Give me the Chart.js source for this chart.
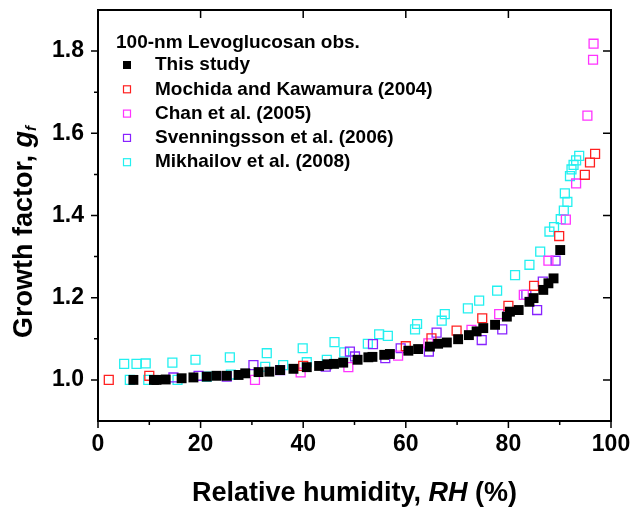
<!DOCTYPE html>
<html>
<head>
<meta charset="utf-8">
<script src="https://cdn.jsdelivr.net/npm/chart.js@4.4.1/dist/chart.umd.min.js"></script>
<style>
html, body { margin: 0; padding: 0; background: #fff; }
</style>
</head>
<body>
<canvas id="gfChart" width="637" height="508"></canvas>
<script>
// 100-nm levoglucosan growth factor vs RH

var studyRH = [6.9, 10.9, 11.4, 13.2, 16.3, 18.6, 21.2, 23.1, 25.1, 27.4, 28.7, 31.3, 33.4, 35.5, 38.1, 40.7, 43.1, 44.7, 46.0, 47.8,
    50.6, 52.7, 53.5, 55.8, 56.9, 60.5, 62.4, 64.7, 66.3, 68.0, 70.2, 72.3, 73.8, 75.1, 77.4, 79.7, 80.3, 82.0, 84.1, 84.9,
    86.8, 87.8, 88.8, 90.1];
var studyGf = [1.000, 1.000, 1.000, 1.001, 1.004, 1.006, 1.008, 1.010, 1.010, 1.012, 1.016, 1.019, 1.020, 1.024, 1.027, 1.031, 1.034, 1.038, 1.039, 1.042,
    1.049, 1.055, 1.056, 1.061, 1.063, 1.071, 1.075, 1.081, 1.088, 1.091, 1.099, 1.109, 1.118, 1.126, 1.134, 1.154, 1.166, 1.170, 1.190, 1.199,
    1.219, 1.235, 1.247, 1.316];

var mochidaRH = [2.1, 10.0, 40.0, 60.0, 65.0, 69.9, 74.9, 80.0, 85.0, 89.9, 94.9, 95.9, 96.9];
var mochidaGf = [1.000, 1.010, 1.034, 1.082, 1.101, 1.120, 1.150, 1.180, 1.229, 1.350, 1.499, 1.529, 1.550];

var chanRH = [30.6, 39.5, 48.8, 58.5, 64.4, 72.8, 78.2, 83.0, 87.8, 91.2, 93.2, 95.4, 96.5, 96.6];
var chanGf = [1.000, 1.018, 1.031, 1.059, 1.089, 1.122, 1.160, 1.207, 1.290, 1.390, 1.478, 1.643, 1.779, 1.818];

var svenRH = [14.7, 19.6, 25.1, 30.3, 35.5, 44.4, 49.1, 50.1, 53.6, 56.0, 59.0, 64.5, 66.0, 74.8, 78.8, 83.5, 85.6, 86.7, 89.2];
var svenGf = [1.006, 1.010, 1.008, 1.036, 1.024, 1.032, 1.069, 1.057, 1.087, 1.053, 1.077, 1.069, 1.115, 1.097, 1.123, 1.207, 1.170, 1.239, 1.290];

var mikhRH = [5.1, 6.2, 7.5, 9.3, 9.8, 14.5, 15.5, 19.0, 21.2, 25.7, 25.9, 32.6, 32.9, 36.1, 39.9, 40.7, 44.6, 46.1, 48.0, 52.6,
    54.8, 56.5, 61.8, 62.2, 67.0, 67.6, 72.1, 74.3, 77.8, 81.3, 84.1, 86.2, 88.0, 88.9, 90.2, 90.8, 91.0, 91.5, 92.0, 92.3,
    92.7, 93.2, 93.8];
var mikhGf = [1.039, 1.000, 1.039, 1.040, 1.000, 1.042, 1.000, 1.049, 1.008, 1.055, 1.013, 1.032, 1.065, 1.036, 1.077, 1.043, 1.049, 1.092, 1.067, 1.088,
    1.111, 1.107, 1.123, 1.136, 1.144, 1.160, 1.174, 1.193, 1.217, 1.255, 1.280, 1.312, 1.361, 1.372, 1.391, 1.412, 1.454, 1.433, 1.496, 1.512,
    1.523, 1.534, 1.545];

var legendTitle = "100-nm Levoglucosan obs.";
var seriesNames = ["This study", "Mochida and Kawamura (2004)", "Chan et al. (2005)", "Svenningsson et al. (2006)", "Mikhailov et al. (2008)"];
var seriesColors = ["#000000", "#ff2020", "#ff33ff", "#8822ff", "#22f0f0"];

var xTicks = [0, 20, 40, 60, 80, 100];
var xMinor = [10, 30, 50, 70, 90];
var yTicks = [1.0, 1.2, 1.4, 1.6, 1.8];
var yMinor = [1.1, 1.3, 1.5, 1.7];

var FONT = "Arial, 'Liberation Sans', sans-serif";

function fPairs(xs, ys) {
    var out = [];
    for (var i = 0; i < xs.length; i++) { out.push({ x: xs[i], y: ys[i] }); }
    return out;
}

function fSet(idx, xs, ys, filled) {
    return {
        label: seriesNames[idx],
        data: fPairs(xs, ys),
        pointStyle: "rect",
        pointRadius: filled ? 7 : 6.3,
        pointHoverRadius: filled ? 7 : 6.3,
        borderWidth: filled ? 0 : 1.3,
        borderColor: seriesColors[idx],
        backgroundColor: filled ? seriesColors[idx] : "rgba(0,0,0,0)",
        showLine: false
    };
}

// frame, tick marks, legend and rich axis titles
var decoPlugin = {
    id: "deco",
    afterDraw: function (chart) {
        var ctx = chart.ctx, a = chart.chartArea;
        var xs = chart.scales.x, ys = chart.scales.y;
        ctx.save();
        ctx.strokeStyle = "#000";
        ctx.lineWidth = 2;
        ctx.strokeRect(a.left, a.top, a.right - a.left, a.bottom - a.top);

        ctx.lineWidth = 1.5;
        ctx.beginPath();
        xTicks.forEach(function (v) {
            var p = xs.getPixelForValue(v);
            ctx.moveTo(p, a.bottom); ctx.lineTo(p, a.bottom + 7);
            ctx.moveTo(p, a.top); ctx.lineTo(p, a.top + 8);
        });
        xMinor.forEach(function (v) {
            var p = xs.getPixelForValue(v);
            ctx.moveTo(p, a.bottom); ctx.lineTo(p, a.bottom + 4);
        });
        yTicks.forEach(function (v) {
            var p = ys.getPixelForValue(v);
            ctx.moveTo(a.left, p); ctx.lineTo(a.left - 7, p);
            ctx.moveTo(a.right, p); ctx.lineTo(a.right - 8, p);
        });
        yMinor.forEach(function (v) {
            var p = ys.getPixelForValue(v);
            ctx.moveTo(a.left, p); ctx.lineTo(a.left - 4, p);
        });
        ctx.stroke();

        // legend
        ctx.fillStyle = "#000";
        ctx.textBaseline = "middle";
        ctx.textAlign = "left";
        ctx.font = "bold 19px " + FONT;
        ctx.fillText(legendTitle, a.left + 18, 43);
        chart.data.datasets.forEach(function (ds, i) {
            var y = 65 + i * 24.3;
            var cx = a.left + 29;
            if (i == 0) {
                ctx.fillStyle = ds.backgroundColor;
                ctx.fillRect(cx - 4, y - 4, 8, 8);
            } else {
                ctx.strokeStyle = ds.borderColor;
                ctx.lineWidth = 1.2;
                ctx.strokeRect(cx - 3.5, y - 3.5, 7, 7);
            }
            ctx.fillStyle = "#000";
            ctx.fillText(ds.label, a.left + 57, y);
        });

        // x title
        var segs = [["Relative humidity, ", "bold 27px "], ["RH", "italic bold 27px "], [" (%)", "bold 27px "]];
        var tot = 0;
        segs.forEach(function (s) { ctx.font = s[1] + FONT; tot += ctx.measureText(s[0]).width; });
        var x0 = (a.left + a.right) / 2 - tot / 2;
        segs.forEach(function (s) {
            ctx.font = s[1] + FONT;
            ctx.fillText(s[0], x0, 494);
            x0 += ctx.measureText(s[0]).width;
        });

        // y title
        ctx.translate(25, 232);
        ctx.rotate(-Math.PI / 2);
        var ysegs = [["Growth factor, ", "bold 27px ", 0], ["g", "italic bold 27px ", 0], ["f", "italic bold 15px ", 7]];
        tot = 0;
        ysegs.forEach(function (s) { ctx.font = s[1] + FONT; tot += ctx.measureText(s[0]).width; });
        x0 = -tot / 2;
        ysegs.forEach(function (s) {
            ctx.font = s[1] + FONT;
            ctx.fillText(s[0], x0, s[2]);
            x0 += ctx.measureText(s[0]).width;
        });
        ctx.restore();
    }
};

var chart = new Chart(document.getElementById("gfChart"), {
    type: "scatter",
    data: {
        datasets: [
            fSet(0, studyRH, studyGf, true),
            fSet(1, mochidaRH, mochidaGf, false),
            fSet(2, chanRH, chanGf, false),
            fSet(3, svenRH, svenGf, false),
            fSet(4, mikhRH, mikhGf, false)
        ]
    },
    options: {
        responsive: false,
        animation: false,
        devicePixelRatio: 1,
        layout: { padding: { left: 0, top: 10, right: 26, bottom: 0 } },
        plugins: { legend: { display: false }, tooltip: { enabled: false } },
        scales: {
            x: {
                type: "linear", min: 0, max: 100,
                afterBuildTicks: function (s) { s.ticks = xTicks.map(function (v) { return { value: v }; }); },
                afterFit: function (s) { s.height = 87; s.paddingLeft = 0; s.paddingRight = 0; },
                grid: { display: false, drawTicks: false },
                border: { display: false },
                ticks: { color: "#000", padding: 10, font: { family: FONT, size: 23, weight: "bold" } }
            },
            y: {
                type: "linear", min: 0.9, max: 1.9,
                afterBuildTicks: function (s) { s.ticks = yTicks.map(function (v) { return { value: v }; }); },
                afterFit: function (s) { s.width = 98; s.paddingTop = 0; s.paddingBottom = 0; },
                grid: { display: false, drawTicks: false },
                border: { display: false },
                ticks: {
                    color: "#000", padding: 14, font: { family: FONT, size: 23, weight: "bold" },
                    callback: function (v) { return Number(v).toFixed(1); }
                }
            }
        }
    },
    plugins: [decoPlugin]
});
</script>
</body>
</html>
